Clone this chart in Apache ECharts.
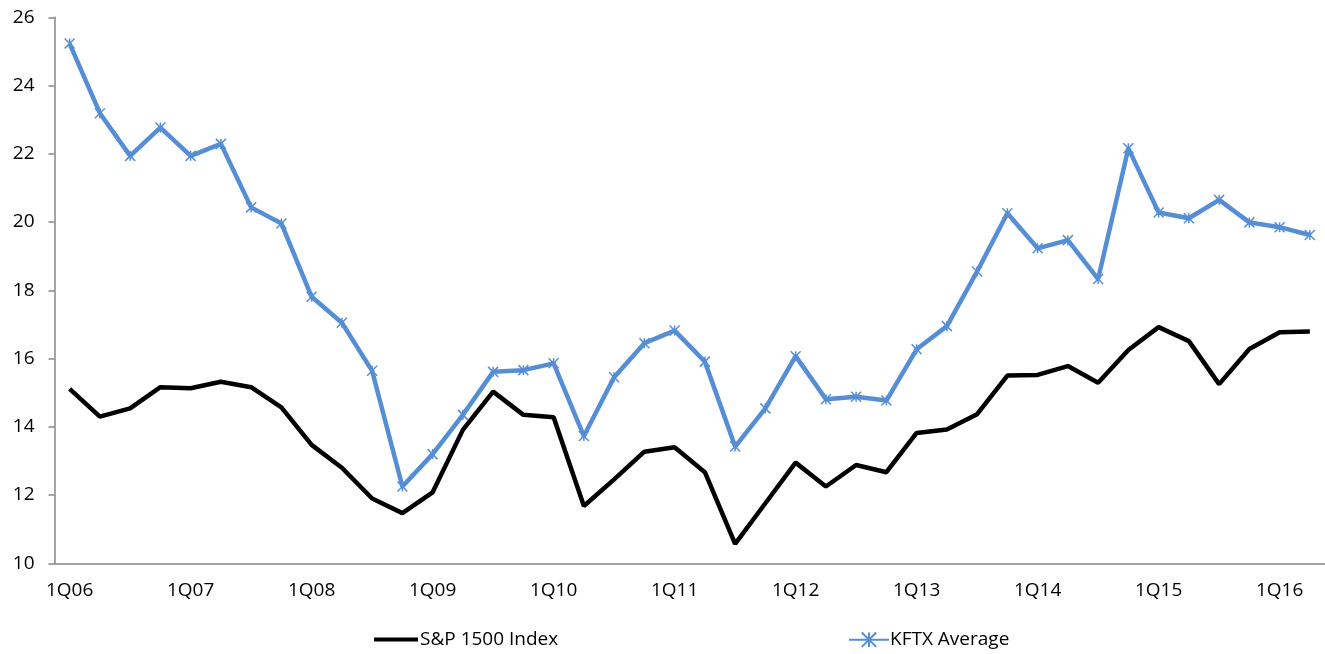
<!DOCTYPE html>
<html>
<head>
<meta charset="utf-8">
<script src="https://cdn.jsdelivr.net/npm/echarts@6/dist/echarts.min.js"></script>
<style>html,body{margin:0;padding:0;background:#fff}#c{width:1325px;height:654px}</style>
</head>
<body>
<div id="c"></div>
<script>
const categories = ['1Q06','2Q06','3Q06','4Q06','1Q07','2Q07','3Q07','4Q07','1Q08','2Q08','3Q08','4Q08',
  '1Q09','2Q09','3Q09','4Q09','1Q10','2Q10','3Q10','4Q10','1Q11','2Q11','3Q11','4Q11',
  '1Q12','2Q12','3Q12','4Q12','1Q13','2Q13','3Q13','4Q13','1Q14','2Q14','3Q14','4Q14',
  '1Q15','2Q15','3Q15','4Q15','1Q16','2Q16'];
const sp1500 = [15.11,14.30,14.54,15.16,15.13,15.32,15.16,14.57,13.47,12.80,11.90,11.47,
  12.08,13.91,15.03,14.35,14.28,11.68,12.46,13.27,13.40,12.67,10.57,11.76,
  12.95,12.25,12.88,12.67,13.82,13.92,14.37,15.50,15.52,15.78,15.29,16.25,
  16.92,16.51,15.25,16.28,16.77,16.79];
const kftx = [25.23,23.19,21.94,22.77,21.94,22.29,20.43,19.96,17.81,17.05,15.64,12.25,
  13.20,14.35,15.61,15.66,15.86,13.73,15.45,16.45,16.82,15.91,13.42,14.54,
  16.07,14.81,14.88,14.77,16.27,16.95,18.55,20.26,19.23,19.47,18.33,22.16,
  20.28,20.11,20.65,19.99,19.85,19.62];
const yTicks = {min:10, max:26, interval:2};
const seriesNames = ['S&P 1500 Index','KFTX Average'];

const FONT = 'Open Sans';
const FS = 19;
const chart = echarts.init(document.getElementById('c'), null, {renderer:'canvas'});
chart.setOption({
  animation:false,
  textStyle:{fontFamily:FONT},
  grid:{left:54.5, right:0, top:17.3, bottom:90.7, containLabel:false},
  legend:[
    {
      left:369, top:625, itemWidth:44, itemHeight:4, icon:'rect',
      textStyle:{fontFamily:FONT, fontSize:FS, color:'#000', padding:[0,0,0,-3]},
      data:[seriesNames[0]]
    },
    {
      left:843, top:625, itemWidth:40, itemHeight:18,
      textStyle:{fontFamily:FONT, fontSize:FS, color:'#000', padding:[0,0,0,-4]},
      data:[seriesNames[1]]
    }
  ],
  xAxis:{
    type:'category', data:categories, boundaryGap:true,
    axisLine:{lineStyle:{color:'#868686', width:1.5}},
    axisTick:{show:false},
    axisLabel:{interval:3, color:'#000', fontSize:FS, fontFamily:FONT, margin:18},
    splitLine:{show:false}
  },
  yAxis:{
    type:'value', min:yTicks.min, max:yTicks.max, interval:yTicks.interval,
    axisLine:{show:true, lineStyle:{color:'#868686', width:1.5}},
    axisTick:{show:true, length:6, lineStyle:{color:'#868686', width:1.5}},
    axisLabel:{color:'#000', fontSize:FS, fontFamily:FONT, margin:20},
    splitLine:{show:false}
  },
  series:[
    {
      name:seriesNames[0], type:'line', data:sp1500,
      symbol:'none', showSymbol:false,
      lineStyle:{color:'#000', width:4.5},
      itemStyle:{color:'#000'}, z:2
    },
    {
      name:seriesNames[1], type:'line', data:kftx,
      symbol:'path://M0,0L10,10M10,0L0,10M5,0L5,10', symbolSize:10,
      lineStyle:{color:'#558ED5', width:4.5},
      itemStyle:{color:'none', borderColor:'#558ED5', borderWidth:1.5}, z:3
    }
  ]
});
</script>
</body>
</html>
